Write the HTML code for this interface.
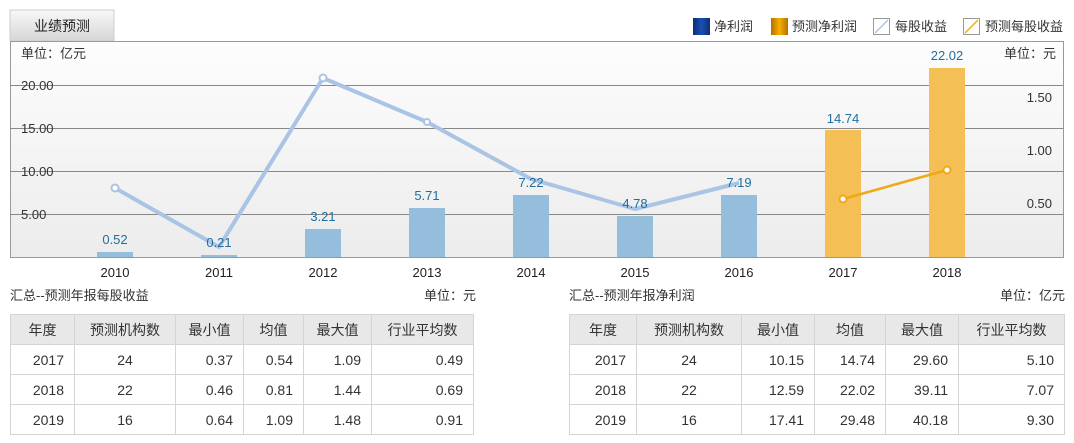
<!DOCTYPE html>
<html><head><meta charset="utf-8"><style>
body{margin:0;background:#fff;width:1074px;height:443px;overflow:hidden;position:relative;font-family:"Liberation Sans","Noto Sans CJK SC",sans-serif;}
svg{position:absolute;left:0;top:0}
table{position:absolute;border-collapse:collapse;font-size:14px;color:#333;}
td{border:1px solid #d4d4d4;height:29px;padding:0 10px;text-align:right;}
tr.h td{background:#e8e8e8;text-align:center;color:#333}
td.c{text-align:center}
.t{position:absolute;font-size:13px;color:#333;top:285px}
</style></head><body>
<svg width="1074" height="443" font-family="Liberation Sans, Noto Sans CJK SC, sans-serif">
<defs>
<linearGradient id="tab" x1="0" y1="0" x2="0" y2="1"><stop offset="0" stop-color="#f8f8f8"/><stop offset="1" stop-color="#d6d6d6"/></linearGradient>
<linearGradient id="bg" x1="0" y1="0" x2="0" y2="1"><stop offset="0" stop-color="#fdfdfd"/><stop offset="1" stop-color="#ececec"/></linearGradient>
<linearGradient id="lb" x1="0" y1="0" x2="1" y2="0"><stop offset="0" stop-color="#0a2f7a"/><stop offset=".5" stop-color="#1a4fb0"/><stop offset="1" stop-color="#0a2f7a"/></linearGradient>
<linearGradient id="lo" x1="0" y1="0" x2="1" y2="0"><stop offset="0" stop-color="#b86e00"/><stop offset=".5" stop-color="#f5b000"/><stop offset="1" stop-color="#b86e00"/></linearGradient>
</defs>
<rect x="10" y="10" width="104" height="31" fill="url(#tab)" stroke="#ccc"/>
<text x="62" y="31" font-size="14" text-anchor="middle" fill="#222">业绩预测</text>
<rect x="10.5" y="41.5" width="1053" height="216" fill="url(#bg)" stroke="#999"/>
<g stroke="#888" stroke-width="1">
<line x1="10" y1="85.5" x2="1063" y2="85.5"/><line x1="10" y1="128.5" x2="1063" y2="128.5"/>
<line x1="10" y1="171.5" x2="1063" y2="171.5"/><line x1="10" y1="214.5" x2="1063" y2="214.5"/>
</g>
<g font-size="13" fill="#333">
<text x="21" y="58">单位：亿元</text>
<text x="21" y="90">20.00</text><text x="21" y="133">15.00</text><text x="21" y="176">10.00</text><text x="21" y="219">5.00</text>
<text x="1056" y="58" text-anchor="end">单位：元</text>
<text x="1052" y="102" text-anchor="end">1.50</text><text x="1052" y="155" text-anchor="end">1.00</text><text x="1052" y="208" text-anchor="end">0.50</text>
</g>
<g fill="#94bedc">
<rect x="97" y="252" width="36" height="5"/><rect x="201" y="255" width="36" height="2"/>
<rect x="305" y="229" width="36" height="28"/><rect x="409" y="208" width="36" height="49"/>
<rect x="513" y="195" width="36" height="62"/><rect x="617" y="216" width="36" height="41"/>
<rect x="721" y="195" width="36" height="62"/>
</g>
<g fill="#f4c055"><rect x="825" y="130" width="36" height="127"/><rect x="929" y="68" width="36" height="189"/></g>
<polyline points="115,188 219,247 323,78 427,122 531,179 635,209 739,183" fill="none" stroke="#a9c4e4" stroke-width="4" stroke-linejoin="round"/>
<g fill="#fff" stroke="#a9c4e4" stroke-width="2"><circle cx="115" cy="188" r="3.5"/><circle cx="323" cy="78" r="3.5"/><circle cx="427" cy="122" r="3"/></g>
<polyline points="843,199 947,170" fill="none" stroke="#f0a818" stroke-width="2.5"/>
<g fill="#fff" stroke="#f0a818" stroke-width="2"><circle cx="843" cy="199" r="3.5"/><circle cx="947" cy="170" r="3.5"/></g>
<g font-size="13" fill="#1f6fa0" text-anchor="middle">
<text x="115" y="244">0.52</text><text x="219" y="247">0.21</text><text x="323" y="221">3.21</text><text x="427" y="200">5.71</text>
<text x="531" y="187">7.22</text><text x="635" y="208">4.78</text><text x="739" y="187">7.19</text><text x="843" y="123">14.74</text><text x="947" y="60">22.02</text>
</g>
<g font-size="13" fill="#222" text-anchor="middle">
<text x="115" y="277">2010</text><text x="219" y="277">2011</text><text x="323" y="277">2012</text><text x="427" y="277">2013</text><text x="531" y="277">2014</text><text x="635" y="277">2015</text><text x="739" y="277">2016</text><text x="843" y="277">2017</text><text x="947" y="277">2018</text>
</g>
<g font-size="13" fill="#333">
<rect x="693" y="18" width="17" height="17" fill="url(#lb)"/><text x="714" y="31">净利润</text>
<rect x="771" y="18" width="17" height="17" fill="url(#lo)"/><text x="792" y="31">预测净利润</text>
<rect x="873.5" y="18.5" width="16" height="16" fill="#fff" stroke="#999"/><line x1="875" y1="33" x2="888" y2="20" stroke="#a9c4e4" stroke-width="1.5"/><text x="895" y="31">每股收益</text>
<rect x="963.5" y="18.5" width="16" height="16" fill="#fff" stroke="#999"/><line x1="965" y1="33" x2="978" y2="20" stroke="#f0b000" stroke-width="1.5"/><text x="985" y="31">预测每股收益</text>
</g>
</svg>
<div class="t" style="left:10px">汇总--预测年报每股收益</div>
<div class="t" style="left:424px">单位：元</div>
<div class="t" style="left:569px">汇总--预测年报净利润</div>
<div class="t" style="left:1000px">单位：亿元</div>
<table style="left:10px;top:314px;width:464px">
<tr class="h"><td style="width:43px">年度</td><td style="width:80px">预测机构数</td><td style="width:47px">最小值</td><td style="width:39px">均值</td><td style="width:47px">最大值</td><td>行业平均数</td></tr>
<tr><td>2017</td><td class="c">24</td><td>0.37</td><td>0.54</td><td>1.09</td><td>0.49</td></tr>
<tr><td>2018</td><td class="c">22</td><td>0.46</td><td>0.81</td><td>1.44</td><td>0.69</td></tr>
<tr><td>2019</td><td class="c">16</td><td>0.64</td><td>1.09</td><td>1.48</td><td>0.91</td></tr>
</table>
<table style="left:569px;top:314px;width:496px">
<tr class="h"><td style="width:46px">年度</td><td style="width:84px">预测机构数</td><td style="width:52px">最小值</td><td style="width:50px">均值</td><td style="width:52px">最大值</td><td>行业平均数</td></tr>
<tr><td>2017</td><td class="c">24</td><td>10.15</td><td>14.74</td><td>29.60</td><td>5.10</td></tr>
<tr><td>2018</td><td class="c">22</td><td>12.59</td><td>22.02</td><td>39.11</td><td>7.07</td></tr>
<tr><td>2019</td><td class="c">16</td><td>17.41</td><td>29.48</td><td>40.18</td><td>9.30</td></tr>
</table>
</body></html>
